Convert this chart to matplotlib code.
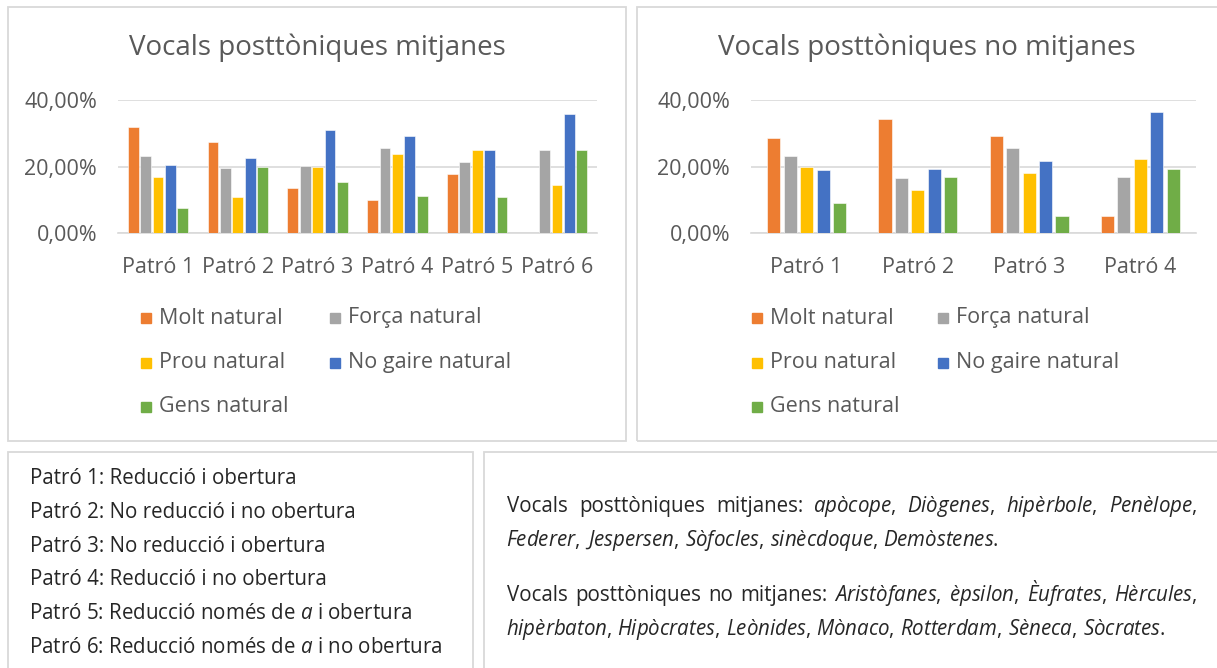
import matplotlib
matplotlib.use("Agg")
import matplotlib.pyplot as plt
from matplotlib.patches import Rectangle
from matplotlib.ticker import FuncFormatter
import numpy as np

# ------------------------------------------------------------
# Data
# ------------------------------------------------------------
series = ["Molt natural", "Força natural", "Prou natural", "No gaire natural", "Gens natural"]
colors = ["#ED7D31", "#A5A5A5", "#FFC000", "#4472C4", "#70AD47"]

patterns_mid = ["Patró 1", "Patró 2", "Patró 3", "Patró 4", "Patró 5", "Patró 6"]
molt_mid = [31.8, 27.3, 13.5, 9.8, 17.8, 0.0]
forca_mid = [23.3, 19.4, 20.3, 25.7, 21.4, 25.0]
prou_mid = [16.7, 10.7, 19.7, 23.7, 25.0, 14.3]
nogaire_mid = [20.6, 22.5, 31.0, 29.2, 25.0, 35.7]
gens_mid = [7.4, 19.7, 15.4, 11.1, 10.7, 25.0]

patterns_nomid = ["Patró 1", "Patró 2", "Patró 3", "Patró 4"]
molt_nomid = [28.7, 34.4, 29.1, 5.1]
forca_nomid = [23.3, 16.4, 25.6, 16.9]
prou_nomid = [19.8, 13.0, 18.1, 22.4]
nogaire_nomid = [18.8, 19.1, 21.7, 36.4]
gens_nomid = [9.0, 16.9, 5.1, 19.1]

yticks = [0, 20, 40]

# italic parts are written as mathtext \mathit{...}
pattern_desc = [
    "Patró 1: Reducció i obertura",
    "Patró 2: No reducció i no obertura",
    "Patró 3: No reducció i obertura",
    "Patró 4: Reducció i no obertura",
    "Patró 5: Reducció només de $\\mathit{a}$ i obertura",
    "Patró 6: Reducció només de $\\mathit{a}$ i no obertura",
]
words_mid = ["apòcope", "Diògenes", "hipèrbole", "Penèlope", "Federer",
             "Jespersen", "Sòfocles", "sinècdoque", "Demòstenes"]
words_nomid = ["Aristòfanes", "èpsilon", "Èufrates", "Hèrcules", "hipèrbaton",
               "Hipòcrates", "Leònides", "Mònaco", "Rotterdam", "Sèneca", "Sòcrates"]

# ------------------------------------------------------------
# Figure helpers (pixel coordinates, origin top-left)
# ------------------------------------------------------------
W, H = 1217, 668
FONT = "Open Sans"
GREY_TXT = "#595959"
BORDER = "#D9D9D9"

plt.rcParams["mathtext.fontset"] = "custom"
plt.rcParams["mathtext.rm"] = FONT
plt.rcParams["mathtext.it"] = FONT + ":italic"

fig = plt.figure(figsize=(W / 100, H / 100), dpi=100)
fig.patch.set_facecolor("white")


def fx(x):
    return x / W


def fy(y):
    return 1 - y / H


def box(x0, y0, x1, y1):
    fig.patches.append(Rectangle((fx(x0), fy(y1)), fx(x1) - fx(x0), fy(y0) - fy(y1),
                                 transform=fig.transFigure, fill=False,
                                 edgecolor=BORDER, linewidth=1.3))


def pct(v, _):
    return f"{v:.2f}".replace(".", ",") + "%"


def bar_chart(rect, cats, values, title, title_xy, width, step, legend_xy, col_dx):
    x0, y0, x1, y1 = rect
    ax = fig.add_axes([fx(x0), fy(y1), fx(x1) - fx(x0), fy(y0) - fy(y1)])
    pos = np.arange(len(cats))
    n = len(values)
    for i, (vals, c) in enumerate(zip(values, colors)):
        off = (i - (n - 1) / 2) * step
        ax.bar(pos + off, vals, width=width, color=c, edgecolor="white", linewidth=0.4, zorder=3)
    ax.set_xlim(-0.5, len(cats) - 0.5)
    ax.set_ylim(0, 40)
    ax.set_yticks(yticks)
    ax.yaxis.set_major_formatter(FuncFormatter(pct))
    ax.set_xticks(pos)
    ax.set_xticklabels(cats)
    ax.grid(axis="y", color=BORDER, linewidth=1.2, zorder=0)
    for s in ["top", "right", "left"]:
        ax.spines[s].set_visible(False)
    ax.spines["bottom"].set_color(BORDER)
    ax.spines["bottom"].set_linewidth(1.2)
    ax.tick_params(axis="both", length=0, labelsize=15.5, labelcolor=GREY_TXT)
    ax.tick_params(axis="y", pad=15)
    ax.tick_params(axis="x", pad=17)
    for lab in ax.get_xticklabels() + ax.get_yticklabels():
        lab.set_fontfamily(FONT)
    fig.text(fx(title_xy[0]), fy(title_xy[1]), title, ha="center", va="center",
             fontsize=20, color=GREY_TXT, family=FONT)

    # legend laid out row by row, two columns
    lx, ly = legend_xy
    for i, (name, c) in enumerate(zip(series, colors)):
        r, col = divmod(i, 2)
        xx = lx + col * col_dx
        yy = ly + r * 44.5
        fig.patches.append(Rectangle((fx(xx), fy(yy + 5)), fx(10), 10 / H,
                                     transform=fig.transFigure, color=c))
        fig.text(fx(xx + 18), fy(yy), name, ha="left", va="center",
                 fontsize=15.5, color=GREY_TXT, family=FONT)
    return ax


# ------------------------------------------------------------
# Panels
# ------------------------------------------------------------
box(8, 7, 626, 441)
box(637, 7, 1225, 441)
box(8, 452, 473, 680)
box(484, 452, 1225, 680)

bar_chart((118, 100, 597, 233), patterns_mid,
          [molt_mid, forca_mid, prou_mid, nogaire_mid, gens_mid],
          "Vocals posttòniques mitjanes", (317, 48),
          width=0.135, step=0.155, legend_xy=(141, 318), col_dx=189)

bar_chart((751, 100, 1196, 233), patterns_nomid,
          [molt_nomid, forca_nomid, prou_nomid, nogaire_nomid, gens_nomid],
          "Vocals posttòniques no mitjanes", (927, 48),
          width=0.118, step=0.148, legend_xy=(752, 318), col_dx=186)

# ------------------------------------------------------------
# Text boxes (baseline positioned)
# ------------------------------------------------------------
renderer = fig.canvas.get_renderer()
TXT_KW = dict(fontsize=14.8, color="#262626", family=FONT, va="baseline", ha="left")
BASE = 6  # baseline offset below the visual line centre


def put(x, y, s):
    if s.startswith("$"):
        x -= 1.5  # mathtext box starts a little left of the ink
    elif "$" in s:
        x -= 1
    return fig.text(fx(x), fy(y + BASE), s, **TXT_KW)


def width_of(s):
    t = fig.text(0, 0, s, **TXT_KW)
    w = t.get_window_extent(renderer).width
    t.remove()
    return w


for i, line in enumerate(pattern_desc):
    put(30, 478 + i * 33.8, line)


def word_tokens(prefix, words, last):
    toks = prefix.split() if prefix else []
    for k, w in enumerate(words):
        punct = "." if (k == len(words) - 1 and last) else ","
        toks.append("$\\mathit{" + w + "}$" + punct)
    return toks


def draw_line(x, y, toks, justify_to=None):
    space = width_of("a a") - width_of("aa")
    widths = [width_of(t) for t in toks]
    gap = space
    if justify_to is not None and len(toks) > 1:
        gap = (justify_to - x - sum(widths)) / (len(toks) - 1)
    cx = x
    for t, w in zip(toks, widths):
        put(cx, y, t)
        cx += w + gap


draw_line(507, 506, word_tokens("Vocals posttòniques mitjanes:", words_mid[:4], False), justify_to=1199)
draw_line(507, 540, word_tokens("", words_mid[4:], True))
draw_line(507, 595, word_tokens("Vocals posttòniques no mitjanes:", words_nomid[:4], False), justify_to=1199)
draw_line(507, 629, word_tokens("", words_nomid[4:], True))

fig.savefig("out.png", dpi=100, facecolor="white")
